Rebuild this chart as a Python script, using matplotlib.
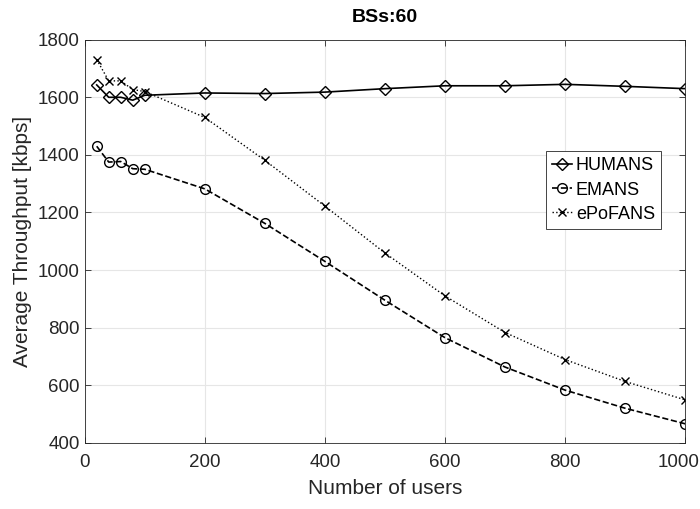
import matplotlib.pyplot as plt
from matplotlib.transforms import ScaledTranslation

plt.rcParams['font.family'] = ['Liberation Sans', 'DejaVu Sans']

# --- data ---
users = [20, 40, 60, 80, 100, 200, 300, 400, 500, 600, 700, 800, 900, 1000]
humans = [1643, 1600, 1600, 1590, 1607, 1615, 1613, 1618, 1630, 1640, 1640, 1645, 1638, 1630]
emans = [1430, 1375, 1377, 1352, 1350, 1282, 1162, 1030, 895, 765, 663, 583, 520, 466]
epofans = [1731, 1657, 1657, 1627, 1620, 1530, 1381, 1222, 1059, 910, 783, 689, 613, 549]

fig = plt.figure(figsize=(7, 5.09), dpi=100)
ax = fig.add_axes([0.121, 0.130, 0.858, 0.792])

ax.plot(users, humans, color='black', linestyle='-', marker='D', markersize=6,
        markerfacecolor='none', linewidth=1.2, label='HUMANS')
ax.plot(users, emans, color='black', linestyle='--', marker='o', markersize=7,
        markerfacecolor='none', linewidth=1.2, label='EMANS')
ax.plot(users, epofans, color='black', linestyle=':', marker='x', markersize=6,
        linewidth=1.0, label='ePoFANS')

ax.set_xlim(0, 1000)
ax.set_ylim(400, 1800)
ax.set_xticks([0, 200, 400, 600, 800, 1000])
ax.set_yticks(range(400, 1801, 200))
ax.grid(True, color='#e6e6e6', linewidth=0.8)
ax.set_axisbelow(True)

for s in ax.spines.values():
    s.set_color('#262626')
    s.set_linewidth(0.6)
ax.tick_params(colors='#262626', labelsize=13.5, direction='in', length=4, width=0.6,
               top=True, right=True)
ax.tick_params(axis='x', pad=8)

# nudge the last x label so it stays inside the figure
last = ax.get_xticklabels()[-1]
last.set_transform(last.get_transform() + ScaledTranslation(-5 / 72, 0, fig.dpi_scale_trans))

ax.set_xlabel('Number of users', fontsize=15, color='#262626', labelpad=6)
ax.set_ylabel('Average Throughput [kbps]', fontsize=15, color='#262626', labelpad=4)
ax.set_title('BSs:60', fontsize=14, fontweight='bold', pad=13)

leg = ax.legend(loc='upper left', bbox_to_anchor=(0.768, 0.724), fontsize=13,
                handlelength=1.1, handletextpad=0.2, borderpad=0.35, labelspacing=0.4,
                borderaxespad=0, fancybox=False, framealpha=1)
leg.get_frame().set_edgecolor('#262626')
leg.get_frame().set_linewidth(0.6)

fig.savefig('out.png', dpi=100)
